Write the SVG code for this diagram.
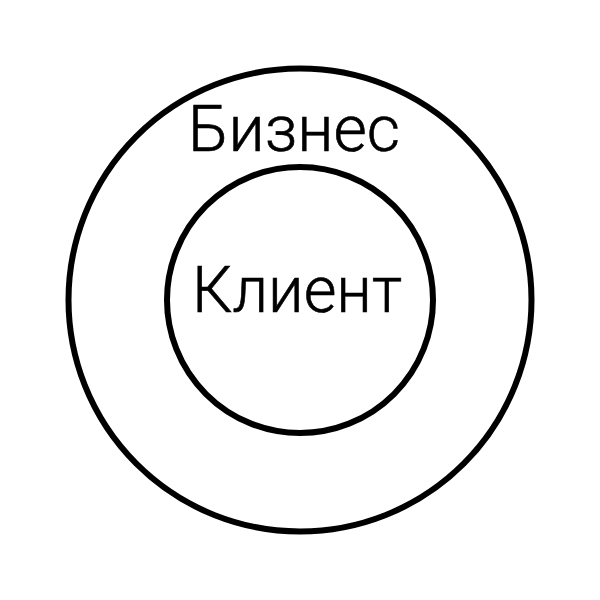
<svg xmlns="http://www.w3.org/2000/svg" width="600" height="600" viewBox="0 0 600 600">
<style>
.ring{fill:none;stroke:#000;stroke-width:6}
.lbl{font-family:Roboto,"Liberation Sans",sans-serif;font-weight:300;font-size:64px;fill:#000;stroke:#000;stroke-width:0.6;text-anchor:middle}
</style>
<rect width="600" height="600" fill="#fff"/>
<g id="business">
<circle class="ring" cx="300" cy="300" r="231.5"/>
<text class="lbl" x="294" y="151" textLength="212" lengthAdjust="spacingAndGlyphs">Бизнес</text>
</g>
<g id="client">
<circle class="ring" cx="300" cy="300" r="133"/>
<text class="lbl" x="297" y="312" textLength="210" lengthAdjust="spacingAndGlyphs">Клиент</text>
</g>
<g id="connectors"></g>
</svg>
